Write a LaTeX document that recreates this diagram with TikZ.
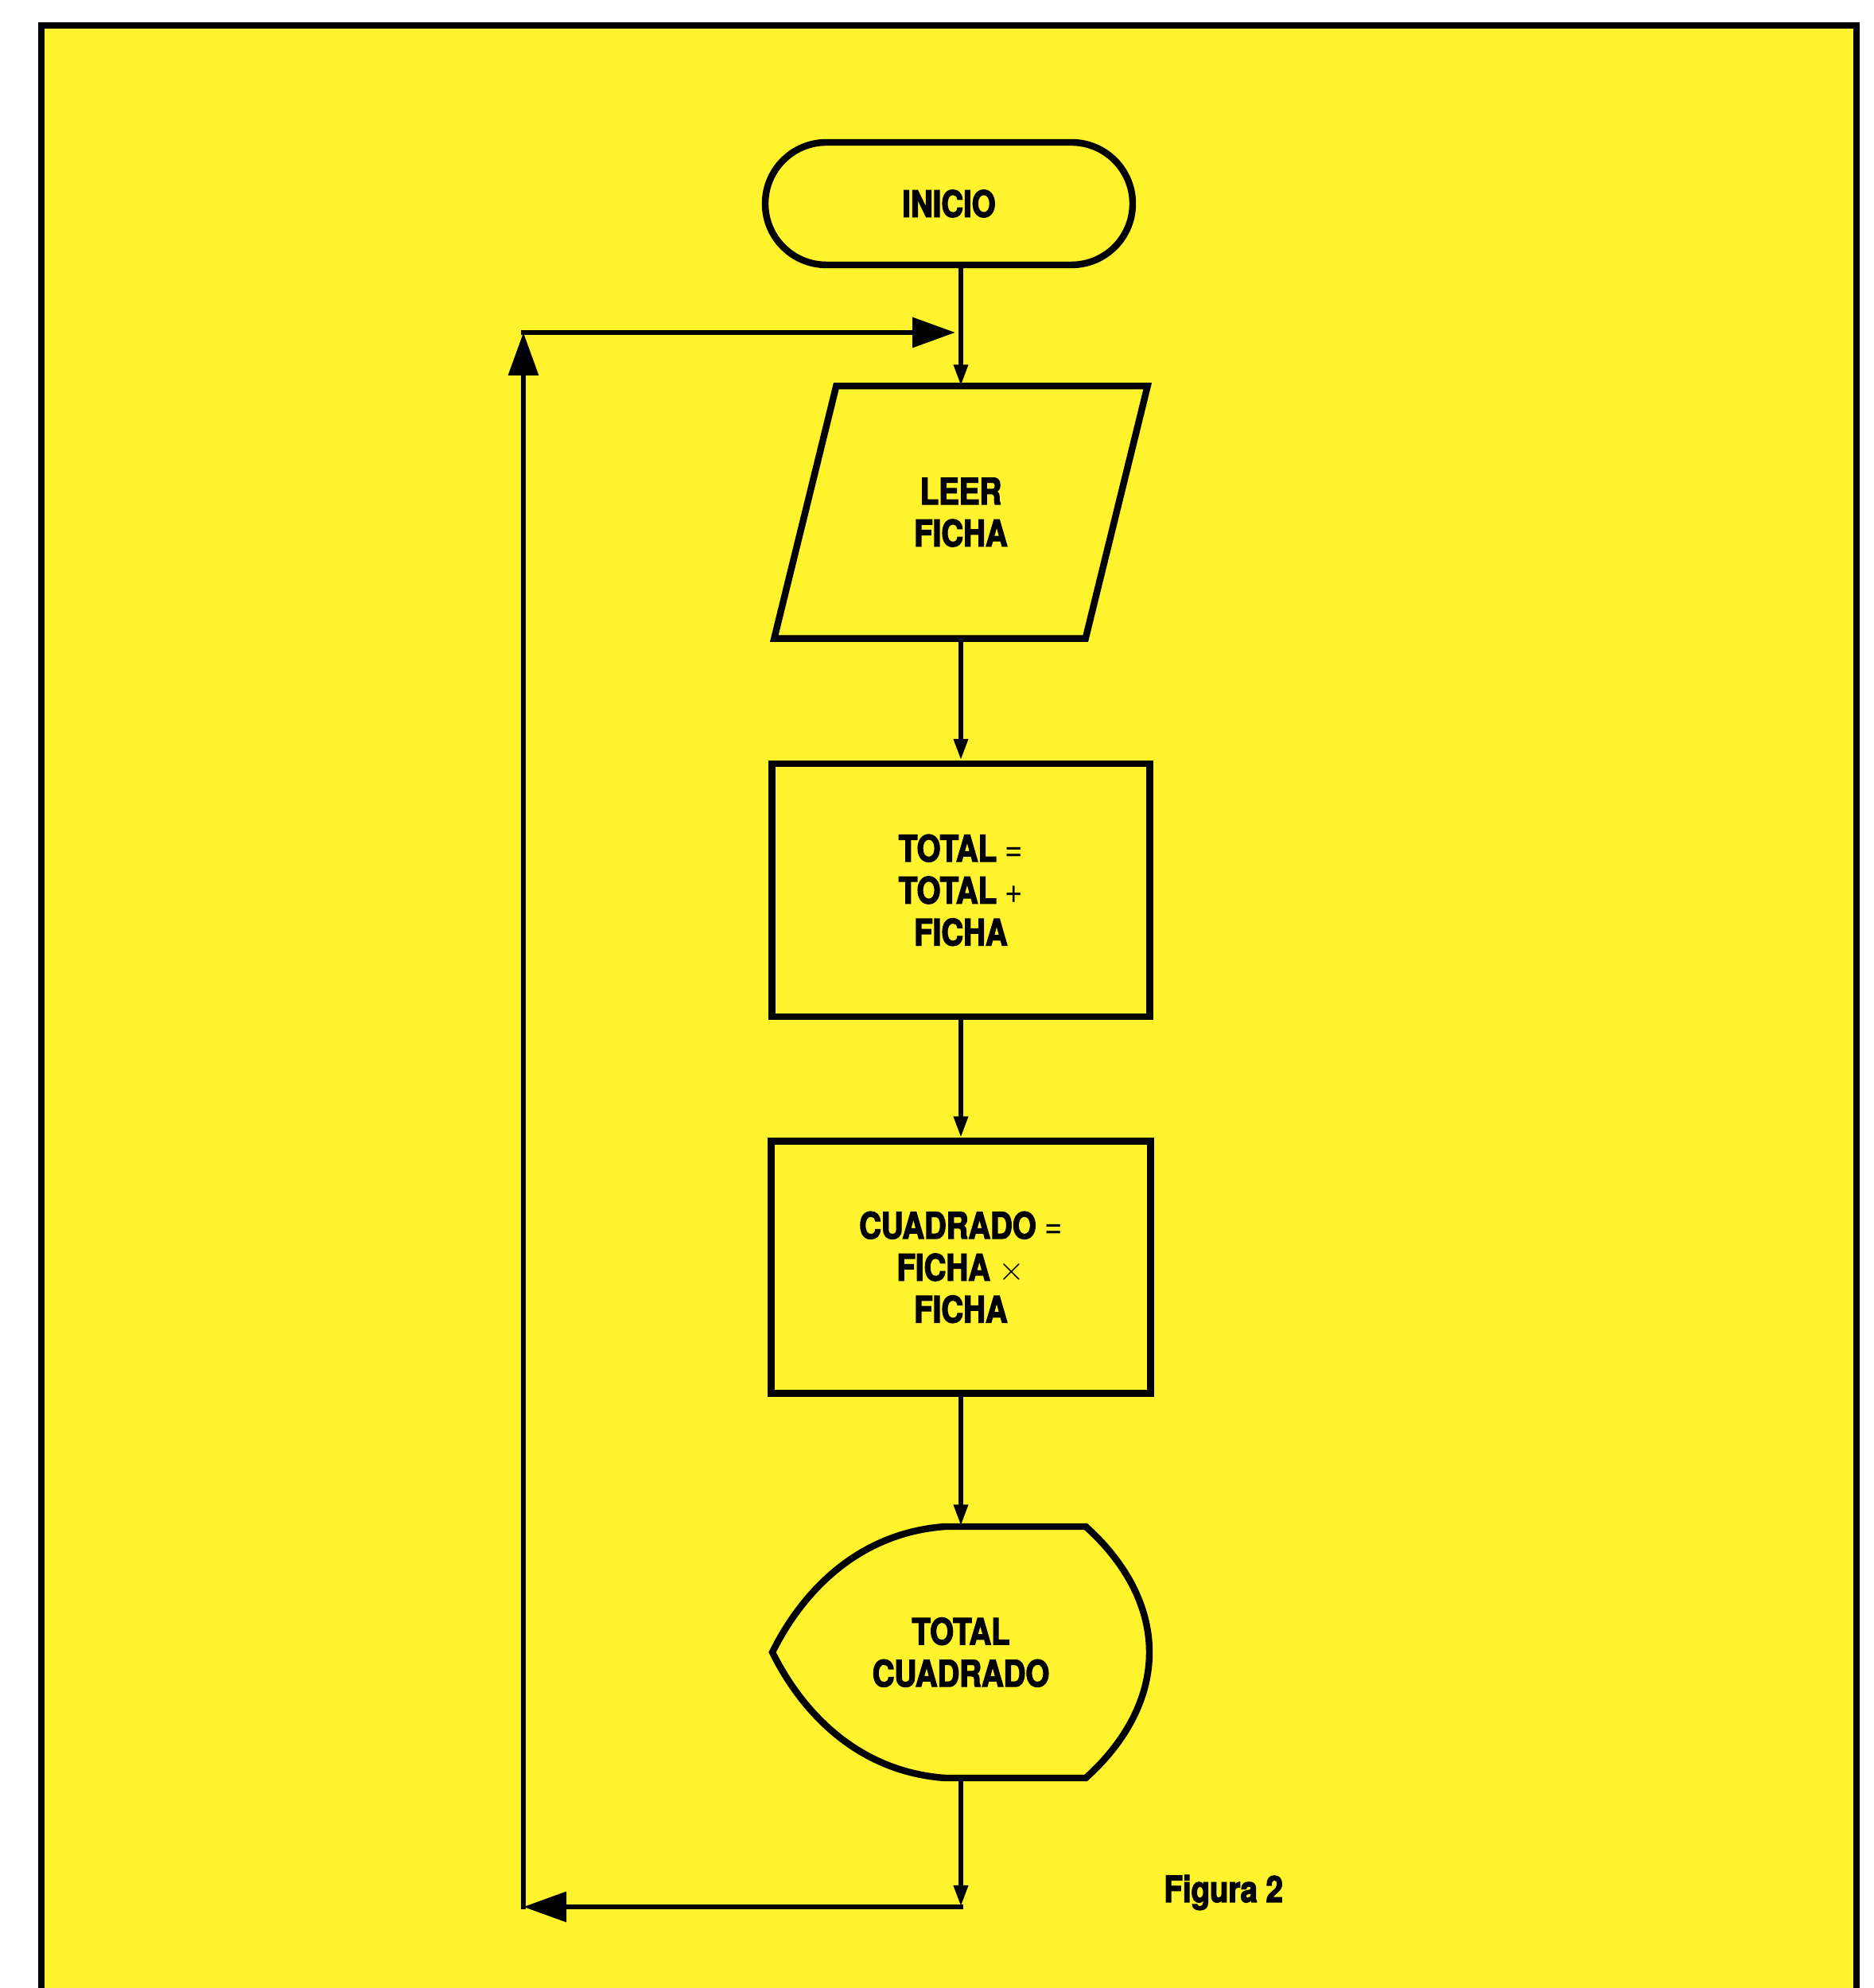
\documentclass[tikz,border=0pt]{standalone}
\usepackage{fontspec}
\newfontfamily\flowfont{TeX Gyre Heros}[FakeStretch=0.84, BoldFeatures={FakeBold=3}]
\usetikzlibrary{arrows.meta}
\definecolor{paper}{RGB}{255,243,45}

\begin{document}
\begin{tikzpicture}[
    every node/.style={font=\flowfont\bfseries\fontsize{13}{15}\selectfont, align=center},
    shapeline/.style={draw, line width=2.4pt},
    flow/.style={line width=1.8pt, line cap=rect},
    bigtip/.style={-{Triangle[length=0.54cm, width=0.37cm]}},
    smalltip/.style={-{Triangle[length=0.27cm, width=0.17cm]}}
]
    \useasboundingbox (0,0) rectangle (23.56,24.99);
    \fill[white] (0,0) rectangle (23.56,24.99);

    %Frame
    \fill[paper] (0.52,-0.5) rectangle (23.34,24.67);
    \draw[line width=2.5pt] (0.52,-0.5) -- (0.52,24.67) -- (23.34,24.67) -- (23.34,-0.5);

    %Nodes
    \node[shapeline, rounded corners=0.77cm, minimum width=4.62cm, minimum height=1.54cm]
       (Inicio) at (11.93,22.43) {INICIO};

    \node[minimum width=4.68cm, minimum height=3.16cm]
       (LeerFicha) at (12.08,18.55) {LEER\\FICHA};
    \draw[shapeline] (LeerFicha.south west) -- ([xshift=-0.78cm]LeerFicha.south east)
       -- (LeerFicha.north east) -- ([xshift=0.78cm]LeerFicha.north west) -- cycle;

    \node[shapeline, minimum width=4.75cm, minimum height=3.18cm]
       (Total) at (12.08,13.80) {TOTAL {\mdseries =}\\TOTAL {\mdseries +}\\FICHA};

    \node[shapeline, minimum width=4.77cm, minimum height=3.17cm]
       (Cuadrado) at (12.08,9.06) {CUADRADO {\mdseries =}\\FICHA {\mdseries $\times$}\\FICHA};

    \node[minimum width=4.74cm, minimum height=3.16cm]
       (Display) at (12.08,4.22) {TOTAL\\CUADRADO};
    \begin{scope}[shift={(Display.center)}]
        \draw[shapeline] (-0.2,1.58) -- (1.57,1.58)
           .. controls (2.05,1.15) and (2.37,0.6) .. (2.37,0)
           .. controls (2.37,-0.6) and (2.05,-1.15) .. (1.57,-1.58)
           -- (-0.2,-1.58)
           .. controls (-1.3,-1.5) and (-2.0,-0.75) .. (-2.37,0)
           .. controls (-2.0,0.75) and (-1.3,1.5) .. cycle;
    \end{scope}

    \node[anchor=base west] (Figura) at (14.51,1.08) {Figura 2};

    %Loop corners
    \coordinate (LoopBR) at (12.08,1.02);
    \coordinate (LoopBL) at (6.58,1.02);
    \coordinate (LoopTL) at (6.58,20.81);
    \coordinate (LoopTR) at (12.08,20.81);

    %Lines
    \draw[flow, smalltip] (Inicio.south -| LeerFicha.north) -- (LeerFicha.north);
    \draw[flow, smalltip] (LeerFicha.south) -- (Total.north);
    \draw[flow, smalltip] (Total.south) -- (Cuadrado.north);
    \draw[flow, smalltip] (Cuadrado.south) -- (Display.north);

    \draw[flow, smalltip] (Display.south) -- (LoopBR);
    \draw[flow, bigtip] (LoopBR) -- (LoopBL);
    \draw[flow, bigtip] (LoopBL) -- (LoopTL);
    \draw[flow, bigtip, shorten >=0.07cm] (LoopTL) -- (LoopTR);
\end{tikzpicture}
\end{document}
